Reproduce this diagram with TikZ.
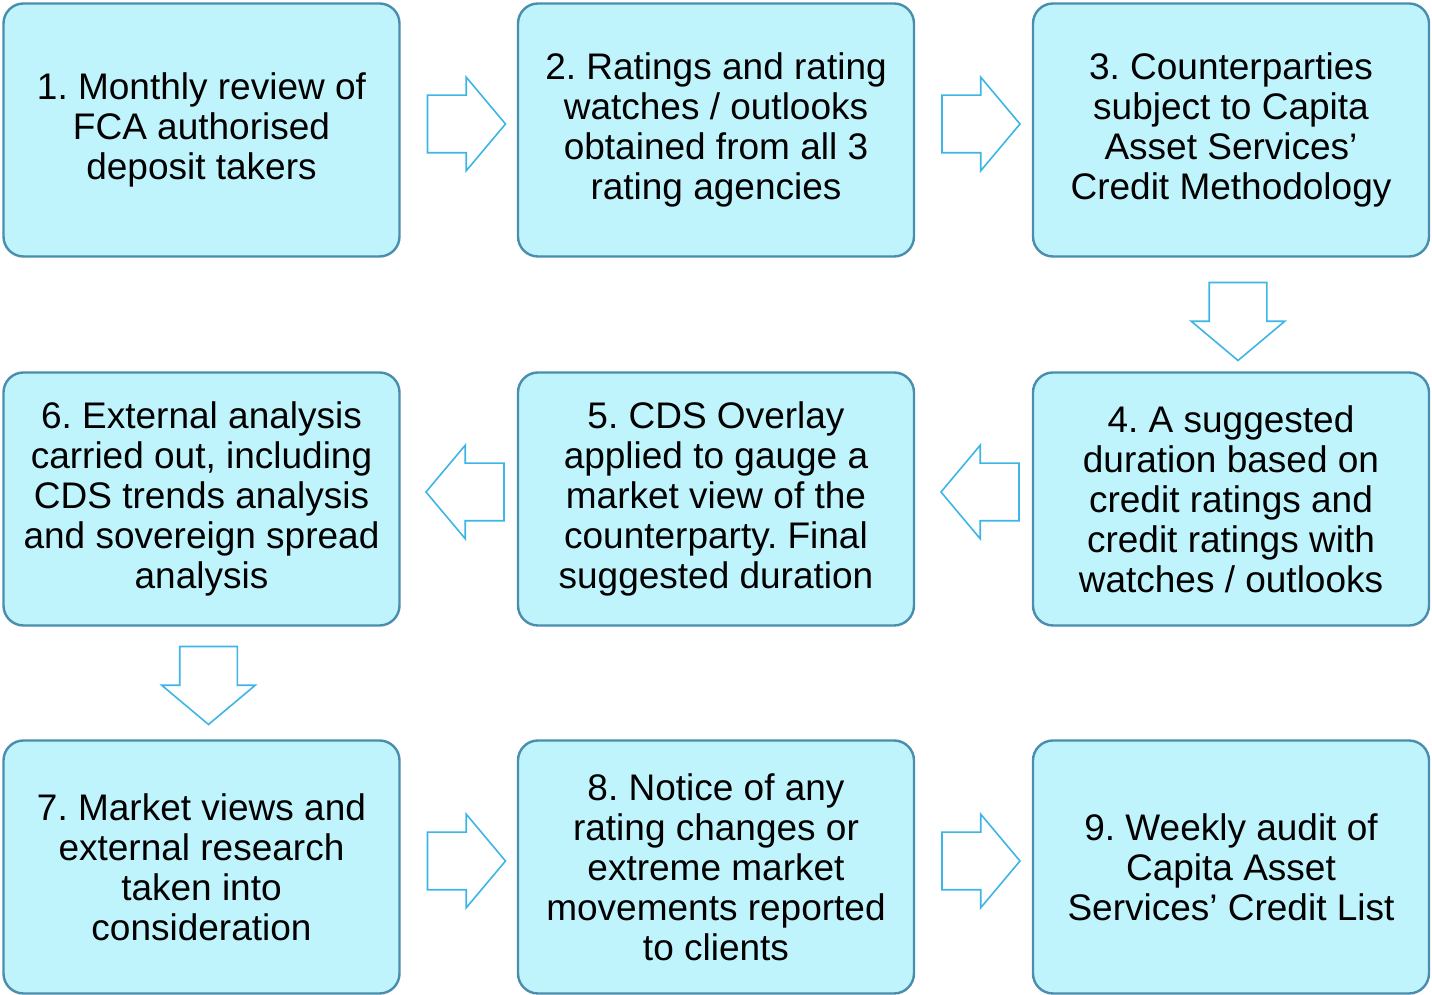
\documentclass[tikz,border=0pt]{standalone}
\usepackage{fontspec}
\setmainfont{Liberation Sans}
\usetikzlibrary{shapes.arrows,calc}
\definecolor{boxfill}{HTML}{BFF4FD}
\definecolor{boxline}{HTML}{4A8DAD}
\definecolor{arrowline}{HTML}{3DB5E6}
\frenchspacing
\begin{document}
\begin{tikzpicture}[x=1pt, y=1pt,
  stage/.style={draw=boxline, line width=1.2pt, fill=boxfill, rounded corners=10pt,
    minimum width=198pt, minimum height=126.5pt, inner sep=0pt, align=center,
    font=\fontsize{18.5}{20}\selectfont},
  flow/.style={single arrow, draw=arrowline, line width=0.8pt, fill=white,
    minimum height=39pt, inner xsep=0pt, inner ysep=14pt, anchor=tail,
    single arrow head extend=9pt, single arrow tip angle=100},
  flowl/.style={flow, rotate=180},
  flowd/.style={flow, rotate=270}]
\useasboundingbox (0,0) rectangle (716,497.5);
% top row
\node[stage] (b1) at (100.75,432.5) {1. Monthly review of\\FCA authorised\\deposit takers};
\node[stage] (b2) at (358,432.5) {2. Ratings and rating\\watches / outlooks\\obtained from all 3\\rating agencies};
\node[stage] (b3) at (615.5,432.5) {3. Counterparties\\subject to Capita\\Asset Services'\\Credit Methodology};
% middle row
\node[stage] (b4) at (615.5,248) {4. A suggested\\duration based on\\credit ratings and\\credit ratings with\\watches / outlooks};
\node[stage] (b5) at (358,248) {5. CDS Overlay\\applied to gauge a\\market view of the\\counterparty. Final\\suggested duration};
\node[stage] (b6) at (100.75,248) {6. External analysis\\carried out, including\\CDS trends analysis\\and sovereign spread\\analysis};
% bottom row
\node[stage] (b7) at (100.75,64) {7. Market views and\\external research\\taken into\\consideration};
\node[stage] (b8) at (358,64) {8. Notice of any\\rating changes or\\extreme market\\movements reported\\to clients};
\node[stage] (b9) at (615.5,64) {9. Weekly audit of\\Capita Asset\\Services' Credit List};
% block arrows, tail just off the previous stage
\node[flow] (a12) at ($(b1.east)+(13,3)$) {};
\node[flow] (a23) at ($(b2.east)+(13,3)$) {};
\node[flowd] (a34) at ($(b3.south)+(3.5,-12)$) {};
\node[flowl] (a45) at ($(b4.west)+(-6,3.5)$) {};
\node[flowl] (a56) at ($(b5.west)+(-6,3.5)$) {};
\node[flowd] (a67) at ($(b6.south)+(3.5,-9.5)$) {};
\node[flow] (a78) at ($(b7.east)+(13,3)$) {};
\node[flow] (a89) at ($(b8.east)+(13,3)$) {};
\end{tikzpicture}
\end{document}
